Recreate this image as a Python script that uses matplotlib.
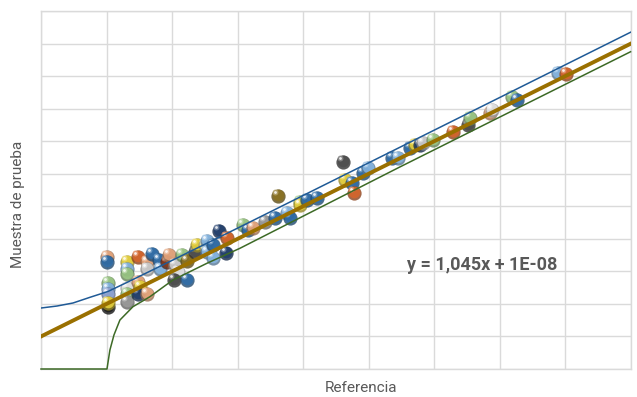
import matplotlib
matplotlib.use('Agg')
import matplotlib.pyplot as plt
import matplotlib.transforms as mtransforms
import matplotlib.patheffects as pe
from matplotlib.ticker import MultipleLocator
from matplotlib.colors import to_rgb
import numpy as np

plt.rcParams['font.family'] = ['Roboto', 'DejaVu Sans']

# valores
referencia = [19.20, 19.20, 19.34, 19.34, 19.34, 19.34, 19.34, 22.11, 22.11, 22.11,
              22.11, 22.11, 22.11, 23.72, 23.72, 24.01, 23.72, 25.03, 25.03, 25.03,
              25.76, 26.78, 26.93, 27.95, 28.24, 29.12, 29.55, 28.97, 30.14, 30.87,
              30.87, 32.03, 32.33, 33.49, 33.78, 33.78, 34.66, 34.66, 35.53, 36.70,
              36.56, 39.03, 39.76, 40.49, 42.24, 43.70, 45.45, 45.89, 44.14, 47.35,
              47.35, 48.37, 49.83, 53.62, 53.91, 54.94, 55.23, 56.54, 57.27, 60.77,
              61.65, 63.40, 64.12, 64.85, 65.29, 66.75, 69.67, 71.86, 72.15, 75.07,
              75.36, 78.27, 79.00, 84.98, 86.15]
muestra = [34.41, 32.87, 26.42, 24.58, 23.04, 19.05, 20.28, 32.87, 30.72, 29.19,
           24.88, 23.04, 20.58, 34.41, 26.73, 25.19, 23.04, 32.87, 30.72, 23.04,
           35.33, 33.49, 30.72, 32.87, 35.02, 31.95, 29.80, 27.34, 35.02, 33.18,
           27.34, 35.94, 38.10, 38.10, 39.32, 35.94, 38.10, 34.10, 42.40, 40.25,
           35.64, 44.24, 42.70, 43.32, 45.16, 46.39, 47.93, 46.39, 53.15, 51.31,
           50.38, 51.92, 52.53, 63.59, 58.06, 57.14, 54.07, 60.22, 61.75, 64.82,
           64.82, 67.90, 68.82, 68.82, 69.43, 70.35, 72.81, 74.96, 77.11, 78.65,
           79.57, 83.56, 82.64, 90.94, 90.63]

pendiente = 1.045
ordenada = 1e-08

banda_sup_x = [9.57, 11.90, 14.24, 16.72, 19.34, 22.55, 28.82, 38.60, 61.94, 95.63]
banda_sup_y = [18.74, 19.35, 20.28, 22.03, 23.81, 27.04, 33.49, 43.63, 68.11, 103.47]
banda_inf_x = [9.57, 19.20, 19.63, 20.22, 21.09, 22.99, 25.47, 28.82, 33.78, 38.60, 61.94, 95.63]
banda_inf_y = [0, 0, 5.84, 10.45, 15.05, 19.14, 22.21, 27.34, 32.47, 37.08, 62.06, 97.48]

colores = {'blue': '#2f6eaa', 'navy': '#213f6e', 'lblue': '#86b7e3', 'orange': '#d8652a',
           'peach': '#e9a77d', 'yellow': '#e9d33d', 'green': '#9cc985', 'gray': '#9b9b9b',
           'lgray': '#cfcfcf', 'dgray': '#4d4d4d', 'olive': '#8c7321', 'white': '#e6e6e6',
           'black': '#1e1e1e', 'brown': '#8b3b1c', 'lav': '#93a8d8', 'cream': '#ece3a6'}
color_punto = ['peach', 'blue', 'green', 'lblue', 'lav', 'black', 'yellow', 'yellow', 'lblue', 'green',
               'white', 'green', 'gray', 'orange', 'peach', 'yellow', 'navy', 'peach', 'lgray', 'peach',
               'blue', 'blue', 'lblue', 'brown', 'peach', 'lgray', 'white', 'dgray', 'green', 'olive',
               'blue', 'dgray', 'yellow', 'cream', 'lblue', 'lblue', 'blue', 'lblue', 'navy', 'orange',
               'navy', 'green', 'blue', 'peach', 'gray', 'blue', 'lblue', 'blue', 'olive', 'green',
               'yellow', 'blue', 'blue', 'dgray', 'yellow', 'blue', 'orange', 'blue', 'lblue', 'blue',
               'lblue', 'blue', 'yellow', 'navy', 'lgray', 'green', 'orange', 'dgray', 'green', 'peach',
               'white', 'green', 'blue', 'lblue', 'orange']

fig = plt.figure(figsize=(6.37, 3.97), dpi=100)
ax = fig.add_axes([41 / 637, 1 - 369 / 397, 590 / 637, 358 / 397])

paso = 10 / pendiente
ax.set_xlim(paso, 10 * paso)
ax.set_ylim(0, 110)
ax.xaxis.set_major_locator(MultipleLocator(paso))
ax.yaxis.set_major_locator(MultipleLocator(10))
ax.grid(True, color='#dadada', linewidth=1.0)
ax.set_axisbelow(True)
ax.tick_params(length=0, labelbottom=False, labelleft=False)
for s in ax.spines.values():
    s.set_color('#dadada')
    s.set_linewidth(1.0)

# canicas
base = np.array([to_rgb(colores[c]) for c in color_punto])
oscuro = base * 0.65
claro = base + (1 - base) * 0.35
arriba = ax.transData + mtransforms.ScaledTranslation(0, 1 / 72, fig.dpi_scale_trans)
brillo = ax.transData + mtransforms.ScaledTranslation(-1.8 / 72, 2.6 / 72, fig.dpi_scale_trans)
for i in range(len(referencia)):
    ax.scatter(referencia[i], muestra[i], s=105, color=oscuro[i], alpha=0.8, linewidths=0, zorder=3)
    ax.scatter(referencia[i], muestra[i], s=70, color=base[i], alpha=0.85, linewidths=0, zorder=3,
               transform=arriba)
    ax.scatter(referencia[i], muestra[i], s=18, color=claro[i], alpha=0.85, linewidths=0, zorder=3,
               transform=brillo)
    ax.scatter(referencia[i], muestra[i], s=4, color='white', alpha=0.85, linewidths=0, zorder=3,
               transform=brillo)

# bandas y tendencia
ax.plot(banda_sup_x, banda_sup_y, color='#1f5a96', linewidth=1.1, zorder=4)
ax.plot(banda_inf_x, banda_inf_y, color='#3d6a26', linewidth=1.1, zorder=4, clip_on=False)
xs = np.array([paso, 10 * paso])
ax.plot(xs, pendiente * xs + ordenada, color='#9a7000', linewidth=2.8, zorder=5,
        path_effects=[pe.SimplePatchShadow(offset=(0.5, -1.5), alpha=0.25), pe.Normal()])

ax.text(0.747, 0.29, 'y = 1,045x + 1E-08', transform=ax.transAxes, ha='center', va='center',
        fontsize=13, fontweight='bold', color='#595959')

fig.text(361 / 637, 1 - 388 / 397, 'Referencia', ha='center', va='center', fontsize=11, color='#595959')
fig.text(18 / 637, 1 - 204 / 397, 'Muestra de prueba', ha='center', va='center', rotation=90,
         fontsize=11, color='#595959')

fig.savefig('out.png', dpi=100)
